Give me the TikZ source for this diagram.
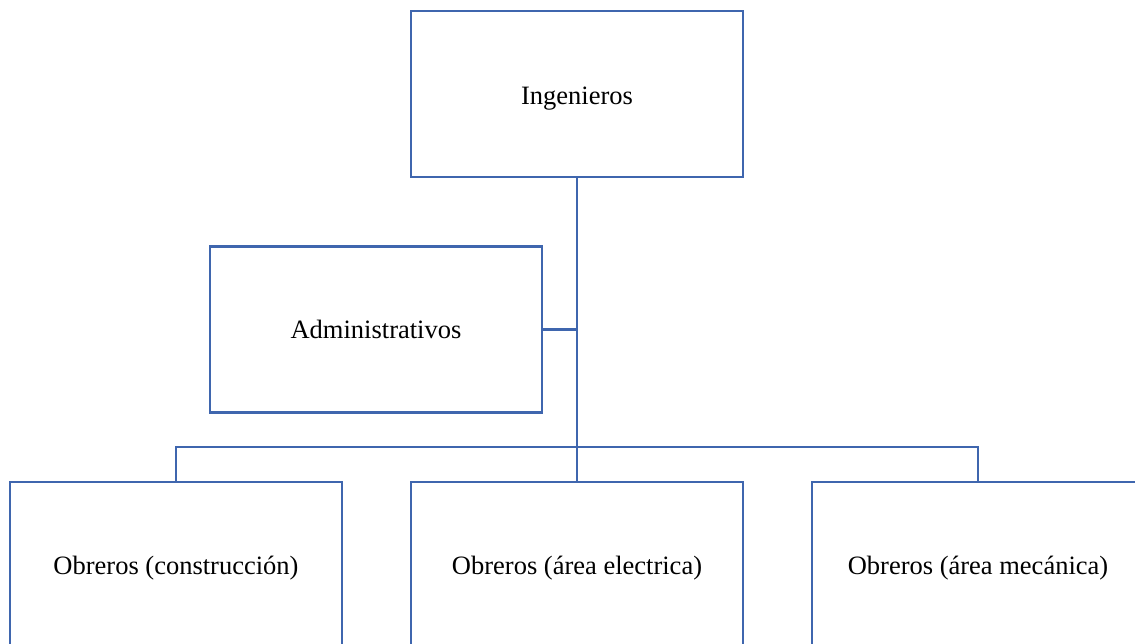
\documentclass[tikz,border=0pt]{standalone}
\usepackage{fontspec}
\setmainfont{Liberation Serif}
\definecolor{lineblue}{HTML}{3F66AE}
\begin{document}
\begin{tikzpicture}[x=1pt,y=-1pt,
  box/.style={draw=lineblue,line width=2.4pt,minimum width=332pt,minimum height=166pt,inner sep=0pt,
    font=\fontsize{26.5}{32}\selectfont,text=black,text depth=0pt},
  conn/.style={draw=lineblue,line width=2.4pt}]
\useasboundingbox (0,0) rectangle (1135,644);
\clip (0,0) rectangle (1135,644);
\node[box] (ing) at (577,94) {\raisebox{-3pt}{Ingenieros}};
\node[box] (adm) at (376,329.5) {Administrativos};
\node[box] (c1) at (176,565) {Obreros (construcción)};
\node[box] (c2) at (577,565) {Obreros (área electrica)};
\node[box] (c3) at (978,565) {Obreros (área mecánica)};
\coordinate (j) at (577,447);
\draw[conn] (ing.south) -- (c2.north);
\draw[conn] (adm.east) -- (adm.east -| ing.south);
\draw[conn] (c1.north) -- (c1.north |- j) -- (c3.north |- j) -- (c3.north);
\end{tikzpicture}
\end{document}
